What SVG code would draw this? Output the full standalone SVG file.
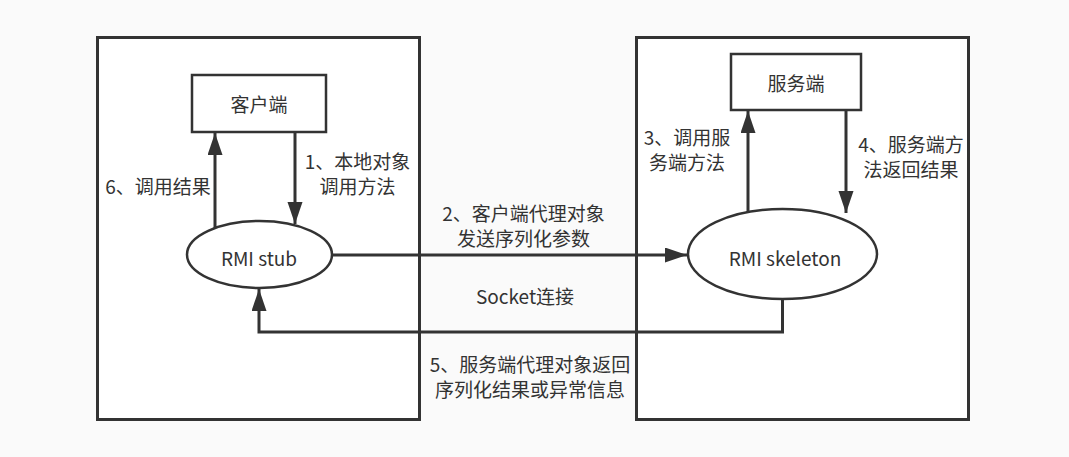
<svg xmlns="http://www.w3.org/2000/svg" width="1069" height="457" viewBox="0 0 1069 457">
<style>
.bg{fill:#fafafa}
.box{fill:#ffffff;stroke:#333333;stroke-width:3}
.node{fill:#ffffff;stroke:#333333;stroke-width:2.5}
.edge{fill:none;stroke:#333333;stroke-width:3}
text{font-family:"Noto Sans CJK SC","Noto Sans",sans-serif;font-size:19px;fill:#333333;text-anchor:middle;dominant-baseline:central}
</style>
<defs>
<marker id="arr" markerUnits="userSpaceOnUse" markerWidth="24" markerHeight="16" refX="22" refY="7.5" orient="auto">
<path d="M0,0 L22,7.5 L0,15 z" fill="#333333"/>
</marker>
</defs>
<rect class="bg" x="0" y="0" width="1069" height="457"/>
<g id="client-side">
<rect class="box" x="97.5" y="37.5" width="322" height="382"/>
</g>
<g id="server-side">
<rect class="box" x="636.5" y="37.5" width="332" height="382"/>
</g>
<g id="client">
<rect class="node" x="192" y="75" width="134" height="57"/>
<text x="259" y="103.5">客户端</text>
</g>
<g id="server">
<rect class="node" x="731" y="54" width="130" height="56"/>
<text x="796" y="82">服务端</text>
</g>
<g id="stub">
<ellipse class="node" cx="259.5" cy="254.5" rx="72.5" ry="33.5"/>
<text x="259" y="257">RMI stub</text>
</g>
<g id="skeleton">
<ellipse class="node" cx="782.5" cy="254" rx="94.5" ry="45"/>
<text x="785" y="257">RMI skeleton</text>
</g>
<g id="connectors">
<path class="edge" d="M295,132 L295,224" marker-end="url(#arr)"/>
<path class="edge" d="M215,228 L215,133" marker-end="url(#arr)"/>
<path class="edge" d="M332,255 L687,255" marker-end="url(#arr)"/>
<path class="edge" d="M748,212 L748,111" marker-end="url(#arr)"/>
<path class="edge" d="M846,110 L846,213" marker-end="url(#arr)"/>
<path class="edge" d="M782.5,299 L782.5,332 L259,332 L259,289" marker-end="url(#arr)"/>
</g>
<g id="labels">
<text x="357.5" y="160">1、本地对象</text>
<text x="357.5" y="185">调用方法</text>
<text x="158" y="185">6、调用结果</text>
<text x="523.5" y="212">2、客户端代理对象</text>
<text x="523.5" y="237">发送序列化参数</text>
<text x="525" y="295">Socket连接</text>
<text x="687" y="136">3、调用服</text>
<text x="687" y="161">务端方法</text>
<text x="911" y="143">4、服务端方</text>
<text x="911" y="168">法返回结果</text>
<text x="530" y="363">5、服务端代理对象返回</text>
<text x="530" y="388">序列化结果或异常信息</text>
</g>
</svg>
